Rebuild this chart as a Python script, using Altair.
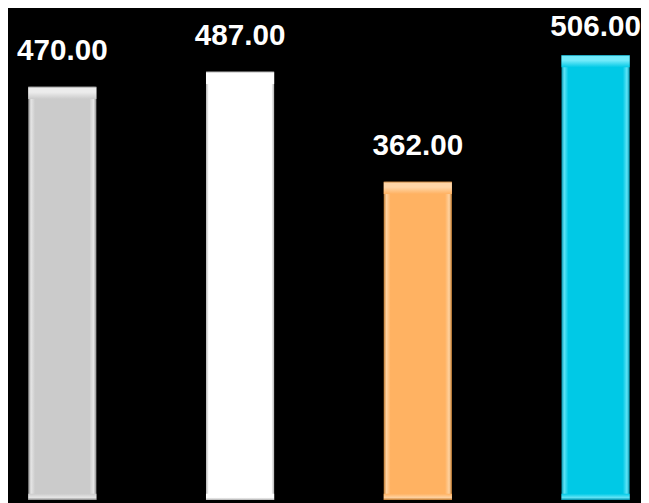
import altair as alt
import pandas as pd

categories = ["A", "B", "C", "D"]
values = [470, 487, 362, 506]
labels = ["470.00", "487.00", "362.00", "506.00"]
colors = ["#cbcbcb", "#ffffff", "#ffb262", "#00c9e6"]
edge_dark = ["#8a8a8a", "#b5b5b5", "#c07a30", "#0090aa"]
edge_light = ["#e6e6e6", "#ffffff", "#ffd2a0", "#60e4f6"]
top_light = ["#ececec", "#ffffff", "#ffd6a8", "#70eafa"]

df = pd.DataFrame({"cat": categories, "value": values, "label": labels})

W, H = 641, 495
cat_list = "[" + ",".join("'%s'" % c for c in categories) + "]"
x_scale = alt.Scale(domain=[-0.3056, 3.2556], nice=False, zero=False)
y_scale = alt.Scale(domain=[0, 556], nice=False)
HALF = 0.1917
X = alt.X("x0:Q", scale=x_scale, axis=None)
X2 = alt.X2("x1:Q")
XC = alt.X("idx:Q", scale=x_scale, axis=None)
Y = alt.Y("value:Q", scale=y_scale, axis=None)


def with_pos(ch):
    return ch.transform_calculate(
        idx="indexof(%s, datum.cat)" % cat_list
    ).transform_calculate(
        x0="datum.idx - %f" % HALF, x1="datum.idx + %f" % HALF,
        zero="0", ytop="datum.value - 14", ybot="7",
    )


layers = []
for i, c in enumerate(categories):
    side = alt.Gradient(
        gradient="linear", x1=0, x2=1, y1=0, y2=0,
        stops=[
            alt.GradientStop(color=edge_dark[i], offset=0),
            alt.GradientStop(color=edge_light[i], offset=0.04),
            alt.GradientStop(color=colors[i], offset=0.1),
            alt.GradientStop(color=colors[i], offset=0.9),
            alt.GradientStop(color=edge_light[i], offset=0.96),
            alt.GradientStop(color=edge_dark[i], offset=1),
        ],
    )
    top = alt.Gradient(
        gradient="linear", x1=0, x2=0, y1=0, y2=1,
        stops=[
            alt.GradientStop(color=edge_dark[i], offset=0),
            alt.GradientStop(color=top_light[i], offset=0.12),
            alt.GradientStop(color=top_light[i], offset=0.45),
            alt.GradientStop(color=colors[i], offset=1),
        ],
    )
    bottom = alt.Gradient(
        gradient="linear", x1=0, x2=0, y1=0, y2=1,
        stops=[
            alt.GradientStop(color=colors[i], offset=0),
            alt.GradientStop(color=edge_light[i], offset=0.6),
            alt.GradientStop(color=edge_dark[i], offset=1),
        ],
    )
    base = with_pos(alt.Chart(df).transform_filter(alt.datum.cat == c))
    layers.append(base.mark_rect(fill=side).encode(x=X, x2=X2, y=Y, y2="zero:Q"))
    layers.append(base.mark_rect(fill=top).encode(x=X, x2=X2, y=Y, y2="ytop:Q"))
    layers.append(
        base.mark_rect(fill=bottom).encode(
            x=X, x2=X2, y=alt.Y("ybot:Q", scale=y_scale, axis=None), y2="zero:Q"
        )
    )

text_style = dict(
    color="white", fontSize=30, fontWeight="bold", font="Liberation Sans",
    baseline="alphabetic", align="center",
)
text_main = with_pos(alt.Chart(df).transform_filter(alt.datum.value < 500)).mark_text(
    dy=-27, **text_style
).encode(x=XC, y=Y, text="label:N")
text_top = with_pos(alt.Chart(df).transform_filter(alt.datum.value >= 500)).mark_text(
    dy=-19, **text_style
).encode(x=XC, y=Y, text="label:N")

chart = alt.layer(*layers, text_main, text_top).properties(
    width=W, height=H, background="black", padding=0,
    autosize=alt.AutoSizeParams(type="none"),
).configure_view(stroke=None)

chart.save("out.html", embed_options={"renderer": "svg", "actions": False})
